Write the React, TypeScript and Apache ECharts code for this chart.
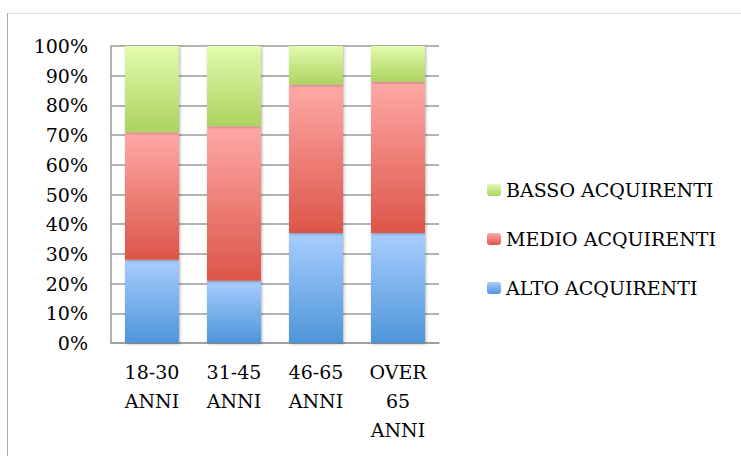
import React, { useEffect, useRef } from "react";
import * as echarts from "echarts";

const categories = ["18-30\nANNI", "31-45\nANNI", "46-65\nANNI", "OVER\n65\nANNI"];
const altoValues = [28, 21, 37, 37];
const medioValues = [43, 52, 50, 51];
const bassoValues = [29, 27, 13, 12];
const seriesNames = ["ALTO ACQUIRENTI", "MEDIO ACQUIRENTI", "BASSO ACQUIRENTI"];
const legendOrder = ["BASSO ACQUIRENTI", "MEDIO ACQUIRENTI", "ALTO ACQUIRENTI"];

const FONT = "'DejaVu Serif', serif";

const grad = (top: string, bottom: string) => ({
  type: "linear",
  x: 0,
  y: 0,
  x2: 0,
  y2: 1,
  colorStops: [
    { offset: 0, color: top },
    { offset: 1, color: bottom },
  ],
});

export default function App() {
  const ref = useRef<HTMLDivElement>(null);
  useEffect(() => {
    if (!ref.current) return;
    const chart = echarts.init(ref.current, undefined, { renderer: "svg" });
    const barStyle = (top: string, bottom: string) => ({
      color: grad(top, bottom),
      shadowBlur: 3,
      shadowColor: "rgba(0,0,0,0.3)",
      shadowOffsetX: 1,
      shadowOffsetY: 1,
    });
    const gridLine = { color: "#9a9a9a", width: 1.5 };
    chart.setOption({
      animation: false,
      backgroundColor: "#ffffff",
      graphic: [
        {
          type: "line",
          shape: { x1: 7, y1: 13.5, x2: 741, y2: 13.5 },
          style: { stroke: "#e0e0e0", lineWidth: 1 },
        },
        {
          type: "line",
          shape: { x1: 7.5, y1: 13, x2: 7.5, y2: 456 },
          style: { stroke: "#a8a8a8", lineWidth: 1 },
        },
      ],
      grid: { left: 111, top: 46, width: 328, height: 297 },
      legend: {
        orient: "vertical",
        left: 487,
        top: 180,
        padding: 0,
        itemWidth: 14,
        itemHeight: 12,
        itemGap: 29,
        data: legendOrder,
        textStyle: { fontFamily: FONT, fontSize: 19, color: "#000", lineHeight: 20 },
      },
      xAxis: {
        type: "category",
        data: categories,
        axisTick: { show: false },
        axisLine: { show: true, lineStyle: gridLine },
        axisLabel: {
          interval: 0,
          margin: 14,
          fontFamily: FONT,
          fontSize: 19,
          lineHeight: 29,
          color: "#000",
          align: "center",
        },
      },
      yAxis: {
        type: "value",
        min: 0,
        max: 100,
        interval: 10,
        axisLine: { show: true, lineStyle: gridLine },
        axisTick: { show: false },
        splitLine: { show: true, lineStyle: gridLine },
        axisLabel: {
          formatter: "{value}%",
          margin: 23,
          fontFamily: FONT,
          fontSize: 19,
          color: "#000",
        },
      },
      series: [
        {
          name: seriesNames[0],
          type: "bar",
          stack: "total",
          barWidth: 54,
          data: altoValues,
          itemStyle: barStyle("#a8cdff", "#4e95d9"),
        },
        {
          name: seriesNames[1],
          type: "bar",
          stack: "total",
          barWidth: 54,
          data: medioValues,
          itemStyle: barStyle("#ffa9a7", "#dc5548"),
        },
        {
          name: seriesNames[2],
          type: "bar",
          stack: "total",
          barWidth: 54,
          data: bassoValues,
          itemStyle: barStyle("#e2fbae", "#acd35f"),
        },
      ],
    });
    return () => chart.dispose();
  }, []);
  return (
    <div
      ref={ref}
      style={{ position: "fixed", left: 0, top: 0, width: 741, height: 456 }}
    />
  );
}
